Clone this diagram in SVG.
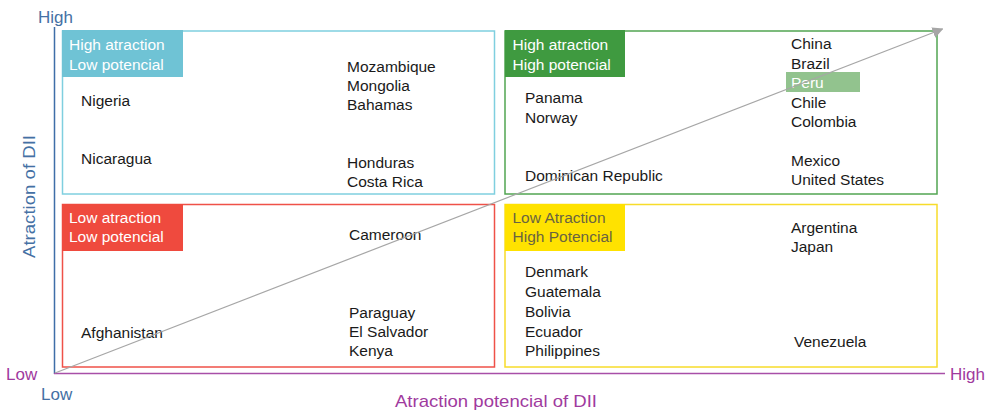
<svg xmlns="http://www.w3.org/2000/svg" width="994" height="413" viewBox="0 0 994 413">
<defs>
<style>
text{font-family:"Liberation Sans",Arial,sans-serif;}
.c{font-size:15.5px;fill:#1a1a1a;}
.lb{font-size:15.5px;fill:#ffffff;}
.ly{font-size:15.5px;fill:#6a6440;}
.ab{font-size:17px;fill:#4470a4;}
.ap{font-size:17px;fill:#a03a9e;}
.box{fill:none;stroke-width:1.5;}
</style>
<marker id="ah" viewBox="0 0 10 10" refX="9" refY="5" markerWidth="11" markerHeight="11" markerUnits="userSpaceOnUse" orient="auto">
<path d="M0,0 L10,5 L0,10 z" fill="#a6a6a6"/>
</marker>
</defs>
<rect width="994" height="413" fill="#ffffff"/>

<g id="q-high-low">
<rect class="box" x="62.5" y="31" width="432" height="163" stroke="#7fcfdf"/>
<rect x="62" y="30" width="121" height="47" fill="#6fc3d5"/>
<text class="lb" x="69" y="50">High atraction</text>
<text class="lb" x="69" y="70">Low potencial</text>
<text class="c" x="81" y="105.5">Nigeria</text>
<text class="c" x="81" y="164">Nicaragua</text>
<text class="c" x="347" y="71.5">Mozambique</text>
<text class="c" x="347" y="90.5">Mongolia</text>
<text class="c" x="347" y="110">Bahamas</text>
<text class="c" x="347" y="168">Honduras</text>
<text class="c" x="347" y="187">Costa Rica</text>
</g>

<g id="q-high-high">
<rect class="box" x="505" y="31" width="432" height="163" stroke="#52a552"/>
<rect x="505" y="30" width="120" height="47" fill="#3f9a40"/>
<text class="lb" x="512.5" y="50">High atraction</text>
<text class="lb" x="512.5" y="70">High potencial</text>
<rect x="786" y="72" width="74" height="20" fill="#92c38e"/>
<text class="c" x="791" y="49">China</text>
<text class="c" x="791" y="69">Brazil</text>
<text class="lb" x="791" y="88">Peru</text>
<text class="c" x="791" y="108">Chile</text>
<text class="c" x="791" y="127">Colombia</text>
<text class="c" x="791" y="166">Mexico</text>
<text class="c" x="791" y="185">United States</text>
<text class="c" x="525" y="103">Panama</text>
<text class="c" x="525" y="122.5">Norway</text>
<text class="c" x="525" y="181">Dominican Republic</text>
</g>

<g id="q-low-low">
<rect class="box" x="62.5" y="204.5" width="432" height="162.5" stroke="#ef5148"/>
<rect x="62" y="204" width="121" height="47" fill="#ef4a3e"/>
<text class="lb" x="69" y="222.5">Low atraction</text>
<text class="lb" x="69" y="241.5">Low potencial</text>
<text class="c" x="349" y="240">Cameroon</text>
<text class="c" x="81" y="337.5">Afghanistan</text>
<text class="c" x="349" y="318">Paraguay</text>
<text class="c" x="349" y="337.3">El Salvador</text>
<text class="c" x="349" y="356">Kenya</text>
</g>

<g id="q-low-high">
<rect class="box" x="505" y="204.5" width="432" height="162.5" stroke="#f7dc2a"/>
<rect x="505" y="204" width="120" height="47" fill="#ffe200"/>
<text class="ly" x="512.5" y="222.5">Low Atraction</text>
<text class="ly" x="512.5" y="241.5">High Potencial</text>
<text class="c" x="791" y="232.7">Argentina</text>
<text class="c" x="791" y="251.7">Japan</text>
<text class="c" x="525" y="277.3">Denmark</text>
<text class="c" x="525" y="296.7">Guatemala</text>
<text class="c" x="525" y="316.5">Bolivia</text>
<text class="c" x="525" y="336.5">Ecuador</text>
<text class="c" x="525" y="355.7">Philippines</text>
<text class="c" x="794" y="346.7">Venezuela</text>
</g>

<g id="connectors">
<line x1="54.5" y1="27" x2="54.5" y2="374" stroke="#3f6ea8" stroke-width="1.5"/>
<line x1="54" y1="373.5" x2="945" y2="373.5" stroke="#a84fa8" stroke-width="1.5"/>
<line x1="55" y1="373" x2="942.5" y2="29" stroke="#a6a6a6" stroke-width="1.2" marker-end="url(#ah)"/>
</g>

<g id="axis-labels">
<text class="ab" x="38" y="22.5">High</text>
<text class="ab" x="41" y="399.5">Low</text>
<text class="ap" x="6" y="379.5">Low</text>
<text class="ap" x="950" y="380">High</text>
<text class="ap" x="395" y="407" textLength="202" lengthAdjust="spacingAndGlyphs">Atraction potencial of DII</text>
<text class="ab" transform="translate(35,258) rotate(-90)" textLength="123" lengthAdjust="spacingAndGlyphs">Atraction of DII</text>
</g>
</svg>
